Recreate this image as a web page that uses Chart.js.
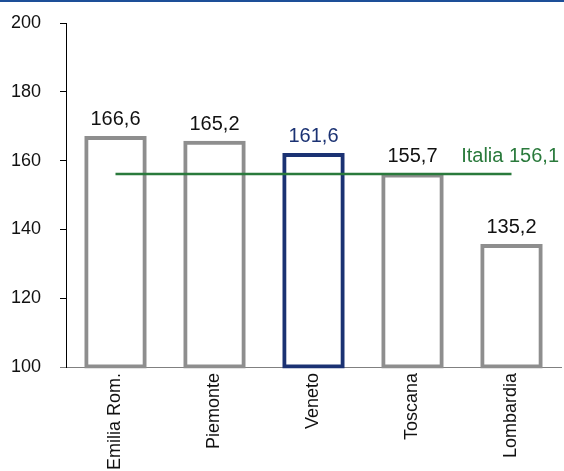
<!DOCTYPE html>
<html>
<head>
<meta charset="utf-8">
<script src="https://cdn.jsdelivr.net/npm/chart.js@4/dist/chart.umd.min.js"></script>
<style>
html,body{margin:0;padding:0;background:#fff;}
canvas{display:block;}
</style>
</head>
<body>
<canvas id="c" width="564" height="471"></canvas>
<script>
const categories = ["Emilia Rom.", "Piemonte", "Veneto", "Toscana", "Lombardia"];
const values = [166.6, 165.2, 161.6, 155.7, 135.2];
const italiaValue = 156.1;
const italiaLabel = "Italia";
const yTicks = [100, 120, 140, 160, 180, 200];
const yMin = 100;
const yMax = 200;
const highlight = "Veneto";

const FONT = '"Liberation Sans", Arial, Helvetica, sans-serif';
const GREY = '#8e8e8e';
const NAVY = '#1b3273';
const GREEN = '#2a7a3c';

const fmt = v => v.toFixed(1).replace('.', ',');

const barColors = categories.map(c => c === highlight ? NAVY : GREY);
const labelColors = categories.map(c => c === highlight ? NAVY : '#111111');

const decorPlugin = {
  id: 'decor',
  beforeDraw(chart) {
    const ctx = chart.ctx;
    ctx.save();
    ctx.fillStyle = '#fff';
    ctx.fillRect(0, 0, chart.width, chart.height);
    ctx.fillStyle = '#1d4f98';
    ctx.fillRect(0, 0, chart.width, 2);
    ctx.restore();
  },
  afterDatasetsDraw(chart) {
    const ctx = chart.ctx;
    const meta = chart.getDatasetMeta(0);
    ctx.save();
    ctx.font = '20px ' + FONT;
    ctx.textAlign = 'center';
    ctx.textBaseline = 'alphabetic';
    meta.data.forEach((bar, i) => {
      ctx.fillStyle = labelColors[i];
      ctx.fillText(fmt(values[i]), bar.x, bar.y - 13);
    });
    const y = chart.scales.y.getPixelForValue(italiaValue);
    ctx.fillStyle = GREEN;
    ctx.textAlign = 'right';
    ctx.fillText(italiaLabel + ' ' + fmt(italiaValue), chart.chartArea.right - 2, y - 12);
    ctx.strokeStyle = '#808080';
    ctx.lineWidth = 1;
    const yb = Math.round(chart.chartArea.bottom) + 0.5;
    ctx.beginPath();
    ctx.moveTo(chart.chartArea.left - 6, yb);
    ctx.lineTo(chart.chartArea.left, yb);
    ctx.stroke();
    ctx.restore();
  }
};

new Chart(document.getElementById('c'), {
  type: 'bar',
  data: {
    labels: categories,
    datasets: [
      {
        type: 'bar',
        data: values,
        base: yMin,
        backgroundColor: '#ffffff',
        borderColor: barColors,
        borderWidth: 4,
        borderSkipped: false,
        inflateAmount: 2,
        barPercentage: 0.59,
        categoryPercentage: 1,
        clip: 4,
        order: 1
      },
      {
        type: 'line',
        data: categories.map(() => italiaValue),
        borderColor: GREEN,
        borderWidth: 2.5,
        pointRadius: 0,
        fill: false,
        order: 0
      }
    ]
  },
  options: {
    responsive: false,
    animation: false,
    layout: { padding: { top: 23, right: 3, left: 0, bottom: 0 } },
    plugins: { legend: { display: false }, tooltip: { enabled: false } },
    scales: {
      x: {
        grid: { display: false, drawTicks: false },
        border: { display: true, color: '#808080', width: 1 },
        ticks: {
          color: '#111111',
          font: { family: FONT, size: 18 },
          minRotation: 90,
          maxRotation: 90,
          padding: 6,
          autoSkip: false
        },
        afterFit(s) { s.height = 104; s.paddingLeft = 0; s.paddingRight = 0; }
      },
      y: {
        min: yMin,
        max: yMax,
        afterBuildTicks(s) { s.ticks = yTicks.map(v => ({ value: v })); },
        grid: { display: true, drawOnChartArea: false, drawTicks: true, tickLength: 6, color: '#000000' },
        border: { display: true, color: '#000000', width: 1 },
        ticks: {
          color: '#111111',
          font: { family: FONT, size: 18 },
          padding: 19,
          callback: v => String(v)
        },
        afterFit(s) { s.width = 66; s.paddingTop = 0; s.paddingBottom = 0; }
      }
    }
  },
  plugins: [decorPlugin]
});
</script>
</body>
</html>
